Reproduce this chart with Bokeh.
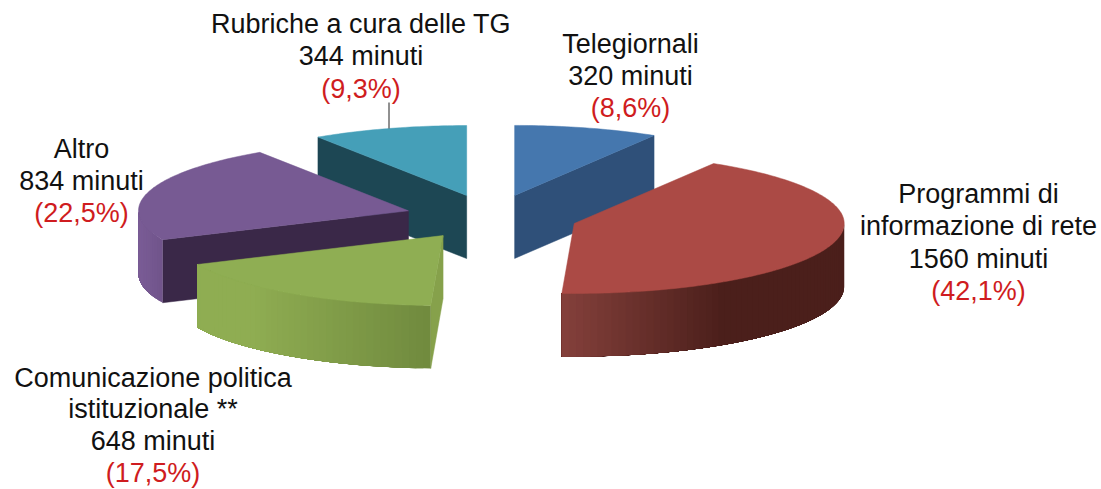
import math
from bokeh.plotting import figure
from bokeh.models import Range1d
from bokeh.core.properties import value
from bokeh.embed import file_html
from bokeh.resources import INLINE

# ---- data ----
categories = ["Telegiornali", "Programmi di informazione di rete",
              "Comunicazione politica istituzionale **", "Altro", "Rubriche a cura delle TG"]
minutes = [320, 1560, 648, 834, 344]
percent_labels = ["(8,6%)", "(42,1%)", "(17,5%)", "(22,5%)", "(9,3%)"]
label_lines = [
    ["Telegiornali", "320 minuti"],
    ["Programmi di", "informazione di rete", "1560 minuti"],
    ["Comunicazione politica", "istituzionale **", "648 minuti"],
    ["Altro", "834 minuti"],
    ["Rubriche a cura delle TG", "344 minuti"],
]

# ---- styles and layout (page pixels) ----
top_colors = ["#4577ae", "#ab4a45", "#8fae53", "#775a93", "#459fb8"]
wall_colors = ["#2f5079", "#4b1f1b", "#86a14b", "#3a2848", "#1d4754"]
rim_left = ["#2f5079", "#84403b", "#8fad52", "#7a5c96", "#1d4754"]
rim_right = ["#2f5079", "#4b1f1b", "#708a3e", "#6f5389", "#1d4754"]
rim_span = [None, (562, 722), (250, 430), (138, 165), None]
label_x = [630, 978, 152.5, 81, 360.5]
label_base = [52.7, 203, 386.7, 158.3, 33]
line_gap = [32, 32.3, 31.6, 31.7, 32.3]
BASE_TO_MID = 9.4
CX, CY, A, B, DEPTH, EXPLODE = 491, 216.5, 270, 70, 63, 0.32
FONT = "Liberation Sans"
FS = "27px"
draw_order = [4, 0, 3, 1, 2]


def mix(c1, c2, t):
    t = max(0, min(1, t))
    a = [int(c1[i:i + 2], 16) for i in (1, 3, 5)]
    b = [int(c2[i:i + 2], 16) for i in (1, 3, 5)]
    return "#%02x%02x%02x" % tuple(round(u + (v - u) * t) for u, v in zip(a, b))


def pt(cx, cy, th, dy=0):
    r = math.radians(th)
    return cx + A * math.sin(r), cy - B * math.cos(r) + dy


p = figure(width=1101, height=489, x_range=Range1d(0, 1101), y_range=Range1d(489, 0),
           toolbar_location=None, tools="", output_backend="svg", min_border=0,
           outline_line_color=None, background_fill_color="white", border_fill_color="white")
p.axis.visible = False
p.grid.visible = False

total = sum(minutes)
angles = []
acc = 0
for v in minutes:
    angles.append((acc / total * 360, (acc + v) / total * 360))
    acc += v

for i in draw_order:
    a0, a1 = angles[i]
    mid = math.radians((a0 + a1) / 2)
    cx = CX + EXPLODE * A * math.sin(mid)
    cy = CY - EXPLODE * B * math.cos(mid)

    # wall of the radial cut that faces the viewer
    th = a1 if i == 0 else (None if i == 1 else a0)
    if th is not None:
        ex, ey = pt(cx, cy, th)
        p.patch([cx, ex, ex, cx], [cy, ey, ey + DEPTH, cy + DEPTH],
                fill_color=wall_colors[i], line_color=wall_colors[i], line_width=0.5)

    # curved rim: bands overlap each other so no seams appear
    lo, hi = max(a0, 90), min(a1, 270)
    if lo < hi and rim_span[i]:
        n = max(2, int((hi - lo) / 1.5))
        xs, ys, cs = [], [], []
        for k in range(n):
            t0 = lo + (hi - lo) * k / n
            tm = lo + (hi - lo) * (k + 0.5) / n
            arc = [t0 + (hi - t0) * j / 40 for j in range(41)]
            top = [pt(cx, cy, t) for t in arc]
            xs.append([q[0] for q in top] + [q[0] for q in reversed(top)])
            ys.append([q[1] for q in top] + [q[1] + DEPTH for q in reversed(top)])
            u = (pt(cx, cy, tm)[0] - rim_span[i][0]) / (rim_span[i][1] - rim_span[i][0])
            cs.append(mix(rim_left[i], rim_right[i], u))
        p.patches(xs, ys, fill_color=cs, line_color=None)

    # top face
    steps = max(8, int(a1 - a0))
    tx, ty = [cx], [cy]
    for k in range(steps + 1):
        x, y = pt(cx, cy, a0 + (a1 - a0) * k / steps)
        tx.append(x)
        ty.append(y)
    p.patch(tx, ty, fill_color=top_colors[i], line_color=top_colors[i], line_width=0.5)

# leader line of the Rubriche label
p.line([388.5, 388.5], [102, 128], line_color="#222222", line_width=1)

# labels
for i, lines in enumerate(label_lines):
    ys = [label_base[i] - BASE_TO_MID + line_gap[i] * k for k in range(len(lines) + 1)]
    p.text([label_x[i]] * len(lines), ys[:-1], text=lines, text_align="center",
           text_baseline="middle", text_font=value(FONT), text_font_size=value(FS),
           text_color="#111111")
    p.text([label_x[i]], [ys[-1]], text=[percent_labels[i]], text_align="center",
           text_baseline="middle", text_font=value(FONT), text_font_size=value(FS),
           text_color="#cf1c20")

open("out.html", "w").write(file_html(p, INLINE))
